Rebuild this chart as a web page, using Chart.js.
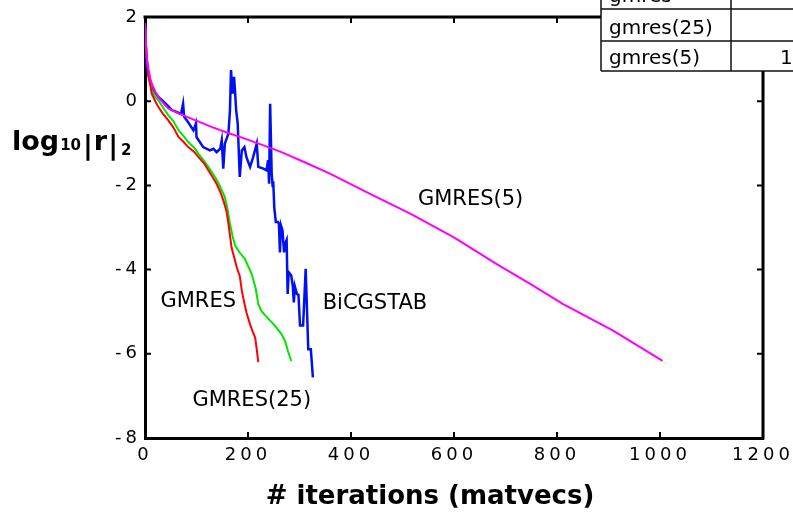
<!DOCTYPE html>
<html><head><meta charset="utf-8">
<script src="https://cdn.jsdelivr.net/npm/chart.js@4.4.0/dist/chart.umd.min.js"></script>
<style>html,body{margin:0;padding:0;background:#fff;}#wrap{width:793px;height:514px;}</style>
</head><body><div id="wrap"><canvas id="c" width="793" height="514"></canvas></div>
<script>
// ---- data ----
const xTicks = [0, 200, 400, 600, 800, 1000, 1200];
const yTicks = [2, 0, -2, -4, -6, -8];

const gmres5X = [0, 2, 4, 7, 10, 13, 20, 30, 45, 65, 97, 129, 160, 194, 230, 265, 310, 359, 437, 515, 599, 683, 748, 812, 909, 1005];
const gmres5Y = [1.85, 1.35, 1.0, 0.75, 0.55, 0.42, 0.22, 0.03, -0.17, -0.29, -0.45, -0.61, -0.75, -0.89, -1.05, -1.21, -1.45, -1.72, -2.2, -2.67, -3.23, -3.87, -4.34, -4.82, -5.45, -6.17];

const gmresX = [0, 2, 4, 7, 10, 13, 20, 26, 35, 45, 55, 65, 75, 84, 95, 104, 115, 123, 132, 139, 146, 152, 158, 162, 168, 174, 178, 184, 188, 193, 197, 204, 210, 214, 217, 220];
const gmresY = [1.85, 1.3, 0.95, 0.6, 0.4, 0.18, 0.0, -0.14, -0.3, -0.45, -0.62, -0.85, -0.97, -1.09, -1.2, -1.33, -1.48, -1.64, -1.82, -1.96, -2.15, -2.35, -2.6, -2.91, -3.47, -3.75, -3.94, -4.15, -4.5, -4.8, -5.02, -5.3, -5.5, -5.62, -5.9, -6.2];

const gmres25X = [0, 2, 4, 7, 10, 13, 20, 26, 35, 45, 55, 65, 75, 84, 95, 104, 115, 123, 136, 145, 155, 160, 165, 170, 175, 184, 194, 207, 215, 220, 226, 233, 249, 258, 265, 272, 278, 284];
const gmres25Y = [1.85, 1.3, 0.95, 0.65, 0.45, 0.26, 0.1, 0.02, -0.15, -0.33, -0.47, -0.69, -0.83, -0.97, -1.1, -1.25, -1.42, -1.56, -1.8, -2.0, -2.28, -2.55, -2.91, -3.2, -3.43, -3.6, -3.75, -4.1, -4.45, -4.82, -4.98, -5.08, -5.29, -5.42, -5.53, -5.7, -5.95, -6.17];

const bicgX = [0, 3, 8, 13, 20, 26, 35, 45, 52, 60, 70, 74, 76, 81, 94, 97, 99, 100, 113, 126, 133, 139, 146, 149, 152, 155, 162, 165, 167, 170, 173, 177, 180, 184, 188, 193, 197, 204, 210, 217, 220, 230, 236, 239, 241, 243, 246, 248, 249, 251, 254, 258, 260, 262, 264, 267, 270, 272, 275, 277, 279, 284, 287, 289, 291, 295, 298, 301, 307, 312, 317, 322, 326];
const bicgY = [1.85, 0.82, 0.55, 0.34, 0.2, 0.1, 0.0, -0.12, -0.21, -0.25, -0.3, -0.06, -0.37, -0.45, -0.69, -0.6, -0.53, -0.85, -1.09, -1.17, -1.13, -1.21, -1.13, -0.93, -1.6, -1.01, -0.77, -0.21, 0.74, 0.18, 0.58, -0.21, -0.53, -1.8, -1.17, -1.09, -1.33, -1.56, -1.33, -1.01, -1.56, -1.6, -1.64, -1.4, -1.96, -0.06, -1.72, -2.04, -1.9, -2.52, -2.87, -2.87, -2.91, -3.59, -2.95, -3.07, -3.59, -3.39, -3.3, -4.58, -4.06, -4.14, -4.4, -4.78, -4.4, -4.58, -4.6, -5.33, -5.33, -3.98, -5.89, -5.89, -6.56];

const seriesNames = ['GMRES', 'GMRES(25)', 'BiCGSTAB', 'GMRES(5)'];
// annotation anchors in data units
const labelX = [30, 92, 345, 530];
const labelY = [-4.76, -7.12, -4.8, -2.33];

const tableRows = ['gmres', 'gmres(25)', 'gmres(5)'];
const tableVals = ['', '', '1'];

const xTitle = '# iterations (matvecs)';

// ---- build ----
function pts(xs, ys) { return xs.map((x, i) => ({x: x, y: ys[i]})); }
const FONT = 'DejaVu Sans';

const decor = {
  id: 'decor',
  beforeDraw(chart) { chart.ctx.letterSpacing = '4px'; },
  beforeDatasetsDraw(chart) { chart.ctx.letterSpacing = '0px'; },
  afterDatasetsDraw(chart) { chart.ctx.letterSpacing = '4px'; },
  afterDraw(chart) {
    const ctx = chart.ctx, a = chart.chartArea;
    const xs = chart.scales.x, ys = chart.scales.y;
    ctx.save();
    ctx.letterSpacing = '0px';
    ctx.strokeStyle = '#000';
    // top and right border
    ctx.lineWidth = 3;
    ctx.beginPath();
    ctx.moveTo(a.left - 1.5, a.top); ctx.lineTo(a.right + 1.5, a.top);
    ctx.moveTo(a.right, a.top); ctx.lineTo(a.right, a.bottom + 1.5);
    ctx.stroke();
    // inward ticks
    ctx.lineWidth = 2;
    ctx.beginPath();
    const tl = 6;
    xTicks.forEach(v => {
      const p = xs.getPixelForValue(v);
      ctx.moveTo(p, a.bottom); ctx.lineTo(p, a.bottom - tl);
      ctx.moveTo(p, a.top); ctx.lineTo(p, a.top + tl);
    });
    yTicks.forEach(v => {
      const p = ys.getPixelForValue(v);
      ctx.moveTo(a.left, p); ctx.lineTo(a.left + tl, p);
      ctx.moveTo(a.right, p); ctx.lineTo(a.right - tl, p);
    });
    ctx.stroke();
    // series labels
    ctx.fillStyle = '#000';
    ctx.font = '21px "' + FONT + '"';
    ctx.textBaseline = 'middle';
    ctx.textAlign = 'left';
    seriesNames.forEach((n, i) => {
      ctx.fillText(n, xs.getPixelForValue(labelX[i]), ys.getPixelForValue(labelY[i]));
    });
    // x title
    ctx.font = 'bold 26px "' + FONT + '"';
    ctx.textBaseline = 'alphabetic';
    ctx.textAlign = 'center';
    ctx.fillText(xTitle, 430, 504);
    // y title  log10|r|2
    ctx.textAlign = 'left';
    let x = 12;
    const base = 150;
    ctx.font = 'bold 27px "' + FONT + '"';
    ctx.fillText('log', x, base); x += ctx.measureText('log').width + 1;
    ctx.font = 'bold 15px "' + FONT + '"';
    ctx.fillText('10', x, base); x += ctx.measureText('10').width + 2;
    ctx.font = 'bold 27px "' + FONT + '"';
    ctx.fillText('|', x, base + 4); x += ctx.measureText('|').width + 1;
    ctx.fillText('r', x, base); x += ctx.measureText('r').width + 1;
    ctx.fillText('|', x, base + 4); x += ctx.measureText('|').width + 3;
    ctx.font = 'bold 15px "' + FONT + '"';
    ctx.fillText('2', x, base + 5);
    // table
    const tl0 = 601, tc = 731, tr = 800;
    const rowLines = [-23, 9, 41, 71];
    ctx.fillStyle = '#fff';
    ctx.fillRect(tl0, 0, tr - tl0, 71);
    ctx.strokeStyle = '#111';
    ctx.lineWidth = 1.5;
    ctx.beginPath();
    rowLines.forEach(y => { ctx.moveTo(tl0, y); ctx.lineTo(tr, y); });
    ctx.moveTo(tl0, 0); ctx.lineTo(tl0, 71);
    ctx.moveTo(tc, 0); ctx.lineTo(tc, 71);
    ctx.stroke();
    ctx.fillStyle = '#000';
    ctx.font = '20px "' + FONT + '"';
    ctx.textBaseline = 'alphabetic';
    tableRows.forEach((t, i) => {
      const b = rowLines[i + 1] - 7;
      ctx.fillText(t, 609, b);
      if (tableVals[i]) ctx.fillText(tableVals[i], 780, b);
    });
    ctx.restore();
  }
};

const common = {pointRadius: 0, tension: 0, fill: false};
new Chart(document.getElementById('c'), {
  type: 'line',
  data: {
    datasets: [
      Object.assign({label: 'GMRES(5)', data: pts(gmres5X, gmres5Y), borderColor: '#ff00ff', borderWidth: 2}, common),
      Object.assign({label: 'GMRES', data: pts(gmresX, gmresY), borderColor: '#ff0000', borderWidth: 2}, common),
      Object.assign({label: 'GMRES(25)', data: pts(gmres25X, gmres25Y), borderColor: '#00e600', borderWidth: 2}, common),
      Object.assign({label: 'BiCGSTAB', data: pts(bicgX, bicgY), borderColor: '#0010f0', borderWidth: 2.5}, common)
    ]
  },
  options: {
    responsive: false,
    animation: false,
    devicePixelRatio: 1,
    layout: {padding: {top: 17, right: 30, left: 0, bottom: 0}},
    plugins: {legend: {display: false}, tooltip: {enabled: false}},
    scales: {
      x: {
        type: 'linear', min: 0, max: 1200,
        afterFit: s => { s.height = 76; s.paddingLeft = 0; s.paddingRight = 0; },
        afterBuildTicks: s => { s.ticks = xTicks.map(v => ({value: v})); },
        grid: {display: false, drawTicks: false},
        border: {display: true, color: '#000', width: 3},
        ticks: {color: '#000', font: {family: FONT, size: 18}, padding: 7, maxRotation: 0, autoSkip: false,
                callback: v => String(v)}
      },
      y: {
        type: 'linear', min: -8, max: 2,
        afterFit: s => { s.width = 145; s.paddingTop = 0; s.paddingBottom = 0; },
        afterBuildTicks: s => { s.ticks = yTicks.map(v => ({value: v})); },
        grid: {display: false, drawTicks: false},
        border: {display: true, color: '#000', width: 3},
        ticks: {color: '#000', font: {family: FONT, size: 18}, padding: 4, autoSkip: false,
                callback: v => String(v)}
      }
    }
  },
  plugins: [decor]
});
</script></body></html>
